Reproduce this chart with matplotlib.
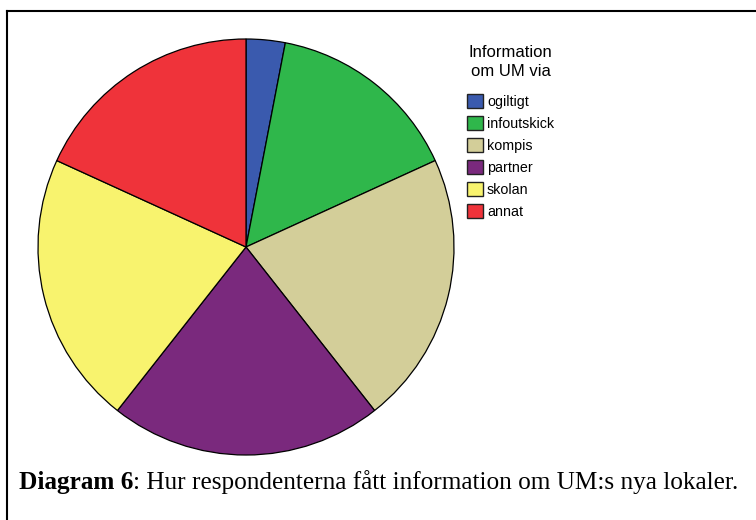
import matplotlib.pyplot as plt
from matplotlib.lines import Line2D

# responses (counts, n = 33)
categories = ['ogiltigt', 'infoutskick', 'kompis', 'partner', 'skolan', 'annat']
counts = [1, 5, 7, 7, 7, 6]
colors = ['#3a5aae', '#2fb74b', '#d3ce99', '#7a297d', '#f8f36e', '#ef333a']

legend_title = 'Information\nom UM via'
caption_bold = 'Diagram 6'
caption_rest = ': Hur respondenterna fått information om UM:s nya lokaler.'

fig = plt.figure(figsize=(7.56, 5.20), dpi=100)

# pie axes placed so the circle sits left of the legend
ax = fig.add_axes([38 / 756, 1 - 455 / 520, 416 / 756, 416 / 520])
wedges, _ = ax.pie(counts, colors=colors, startangle=90, counterclock=False,
                   wedgeprops=dict(edgecolor='black', linewidth=0.9))
ax.set_aspect('equal')
ax.set_xlim(-1, 1)
ax.set_ylim(-1, 1)
ax.axis('off')

leg = fig.legend(wedges, categories, title=legend_title,
                 loc='upper left', bbox_to_anchor=(467 / 756, 1 - 45 / 520),
                 frameon=False, prop={'family': 'Liberation Sans', 'size': 10.3},
                 title_fontproperties={'family': 'Liberation Sans', 'size': 12},
                 handlelength=1.1, handleheight=1.05, handletextpad=0.3,
                 labelspacing=0.52, borderaxespad=0, borderpad=0)
leg.get_title().set_multialignment('center')
leg.get_title().set_linespacing(1.35)
leg._legend_box.sep = 11
for h in leg.legend_handles:
    h.set_edgecolor('#222222')
    h.set_linewidth(1.0)

# frame lines (top and left only, as in the reference)
fig.add_artist(Line2D([7 / 756, 1], [1 - 11 / 520, 1 - 11 / 520],
                      transform=fig.transFigure, color='black', lw=1.5))
fig.add_artist(Line2D([7 / 756, 7 / 756], [0, 1 - 11 / 520],
                      transform=fig.transFigure, color='black', lw=1.5))

# caption: bold label followed by regular text
t1 = fig.text(19 / 756, 1 - 489 / 520, caption_bold, family='Liberation Serif',
              fontsize=18.2, fontweight='bold', va='baseline', ha='left')
ax.annotate(caption_rest, xy=(1, 0), xycoords=t1, va='bottom', ha='left',
            family='Liberation Serif', fontsize=18.2, annotation_clip=False)

fig.savefig('out.png', dpi=100)
